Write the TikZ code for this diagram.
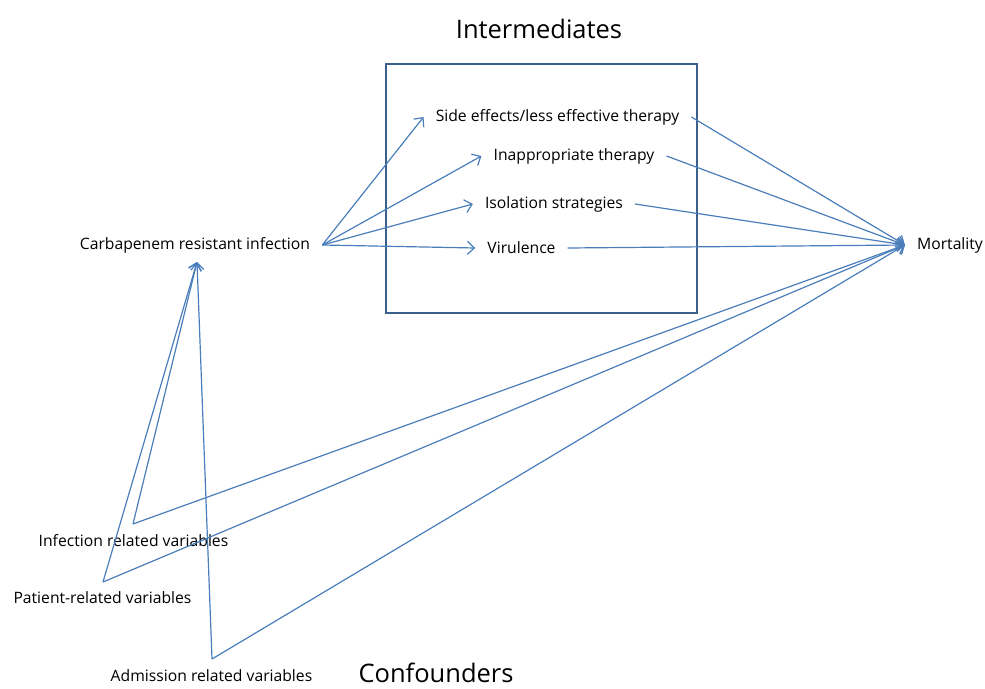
\documentclass[tikz,border=0pt]{standalone}
\usepackage{fontspec}
\setmainfont{Open Sans}
\usetikzlibrary{arrows.meta}
\definecolor{lineblue}{HTML}{4A7EBB}
\definecolor{boxblue}{HTML}{3A5F8B}
\tikzset{
  lbl/.style={inner sep=0pt, inner xsep=12pt, font=\fontsize{15.7}{18}\selectfont},
  ttl/.style={inner sep=0pt, font=\fontsize{25.5}{30}\selectfont},
  link/.style={lineblue, line width=1.2pt, -{Straight Barb[length=7pt,width=13pt]}},
}
\begin{document}
\begin{tikzpicture}[x=1pt,y=-1pt]
\useasboundingbox (0,0) rectangle (985,688);
\draw[boxblue, line width=2.4pt] (386,64) rectangle (697,313);
\node[ttl] (inter) at (539,29) {Intermediates};
\node[ttl] (conf) at (436,673) {Confounders};
\node[lbl] (cri) at (195,245) {Carbapenem resistant infection};
\node[lbl] (side) at (557.5,117) {Side effects/less effective therapy};
\node[lbl] (inapp) at (574,156) {Inappropriate therapy};
\node[lbl] (iso) at (554,204) {Isolation strategies};
\node[lbl] (vir) at (521.5,248) {Virulence};
\node[lbl] (mort) at (950,245) {Mortality};
\node[lbl] (inf) at (133.5,541) {Infection related variables};
\node[lbl] (pat) at (102.5,598) {Patient-related variables};
\node[lbl] (adm) at (211.5,676) {Admission related variables};
\coordinate (crit) at (197,262);
\coordinate (infc) at (133,524);
\coordinate (patc) at (103,582);
\coordinate (admc) at (212,659);
\draw[link] (cri.east) -- (side.west);
\draw[link] (cri.east) -- (inapp.west);
\draw[link] (cri.east) -- (iso.west);
\draw[link] (cri.east) -- (vir.west);
\draw[link] (side.east) -- (mort.west);
\draw[link] (inapp.east) -- (mort.west);
\draw[link] (iso.east) -- (mort.west);
\draw[link] (vir.east) -- (mort.west);
\draw[link] (infc) -- (mort.west);
\draw[link] (patc) -- (mort.west);
\draw[link] (admc) -- (mort.west);
\draw[link] (infc) -- (crit);
\draw[link] (patc) -- (crit);
\draw[link] (admc) -- (crit);
\end{tikzpicture}
\end{document}
